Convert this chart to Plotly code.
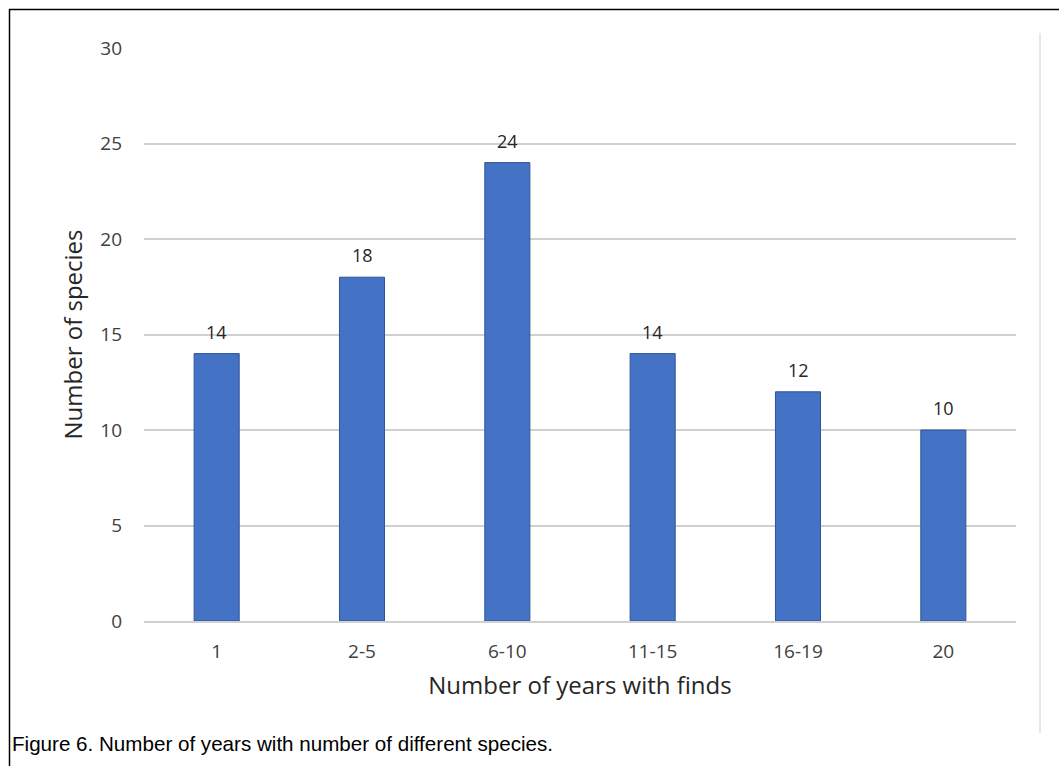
import plotly.graph_objects as go

categories = ["1", "2-5", "6-10", "11-15", "16-19", "20"]
species_counts = [14, 18, 24, 14, 12, 10]
y_ticks = [0, 5, 10, 15, 20, 25, 30]

W, H = 1059, 766
L, R, T, B = 144, 43, 48, 145
pw, ph = W - L - R, H - T - B

def px(x):
    return (x - L) / pw

def py(y):
    return (H - B - y) / ph

fig = go.Figure()
fig.add_trace(go.Bar(
    x=categories, y=species_counts,
    marker=dict(color="#4472C4", line=dict(color="#2F5597", width=1)),
    width=0.31,
    hoverinfo="skip",
))

for i, v in enumerate(species_counts):
    fig.add_annotation(x=i, y=v, text=str(v), showarrow=False, yanchor="bottom",
                       yshift=8, font=dict(family="Open Sans, Noto Sans", size=18, color="#262626"))

shapes = [
    dict(type="line", xref="paper", yref="paper", x0=px(9), x1=px(1059), y0=py(9.5), y1=py(9.5),
         line=dict(color="black", width=1.5)),
    dict(type="line", xref="paper", yref="paper", x0=px(9.5), x1=px(9.5), y0=py(9), y1=py(766),
         line=dict(color="black", width=1.5)),
    dict(type="line", xref="paper", yref="paper", x0=px(1040), x1=px(1040), y0=py(33), y1=py(733),
         line=dict(color="#D0D0D0", width=1)),
]

fig.add_annotation(xref="paper", yref="paper", x=px(10), y=py(743), text="Figure 6. Number of years with number of different species.",
                   showarrow=False, xanchor="left", yanchor="middle",
                   font=dict(family="Liberation Sans, Arial", size=20.6, color="black"))

fig.update_layout(
    width=W, height=H,
    margin=dict(l=L, r=R, t=T, b=B, pad=0),
    paper_bgcolor="white", plot_bgcolor="white",
    showlegend=False,
    shapes=shapes,
    font=dict(family="Open Sans, Noto Sans", color="#404040"),
    xaxis=dict(
        type="category", tickangle=0, range=[-0.5, len(categories) - 0.5],
        showgrid=False, showline=True, linecolor="#D0D0D0", linewidth=2,
        tickfont=dict(size=19, color="#404040"), ticks="", ticklabelstandoff=12,
        title=dict(text="Number of years with finds", font=dict(size=24, color="#262626"), standoff=14),
    ),
    yaxis=dict(
        range=[0, 30], tickvals=y_ticks, showgrid=True, gridcolor="#D0D0D0", gridwidth=2,
        zeroline=False, showline=False, ticks="", ticklabelstandoff=21,
        tickfont=dict(size=19, color="#404040"),
        title=dict(text="Number of species", font=dict(size=24, color="#262626"), standoff=10),
    ),
)

fig.write_html("out.html")
